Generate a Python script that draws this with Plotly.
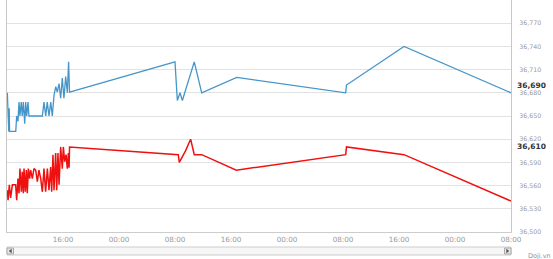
import plotly.graph_objects as go

D1, D2, D3, D4 = "2015-03-10", "2015-03-11", "2015-03-12", "2015-03-13"

blue_times = [
    f"{D1} 08:03", f"{D1} 08:15", f"{D1} 08:19", f"{D1} 08:22", f"{D1} 09:15", f"{D1} 09:23",
    f"{D1} 09:34", f"{D1} 09:43", f"{D1} 09:51", f"{D1} 10:02", f"{D1} 10:11", f"{D1} 10:20",
    f"{D1} 10:32", f"{D1} 10:40", f"{D1} 10:49", f"{D1} 11:00", f"{D1} 11:08", f"{D1} 13:03",
    f"{D1} 13:17", f"{D1} 13:32", f"{D1} 13:45", f"{D1} 14:00", f"{D1} 14:15", f"{D1} 14:28",
    f"{D1} 14:43", f"{D1} 14:58", f"{D1} 15:11", f"{D1} 15:26", f"{D1} 15:40", f"{D1} 15:54",
    f"{D1} 16:08", f"{D1} 16:23", f"{D1} 16:37", f"{D1} 16:48", f"{D1} 16:56",
    f"{D2} 08:00", f"{D2} 08:20", f"{D2} 08:43", f"{D2} 09:03", f"{D2} 10:45", f"{D2} 11:49",
    f"{D2} 16:49",
    f"{D3} 08:23", f"{D3} 08:30", f"{D3} 16:43",
    f"{D4} 08:00",
]
blue_values = [
    36680, 36630, 36660, 36630, 36630, 36650,
    36643, 36668, 36650, 36668, 36650, 36668,
    36640, 36668, 36650, 36668, 36650, 36650,
    36668, 36650, 36668, 36650, 36668, 36650,
    36677, 36688, 36681, 36692, 36673, 36699,
    36673, 36701, 36680, 36720, 36681,
    36720, 36670, 36680, 36670, 36720, 36680,
    36700,
    36680, 36690, 36740,
    36680,
]

red_times = [
    f"{D1} 08:03", f"{D1} 08:09", f"{D1} 08:20", f"{D1} 08:31", f"{D1} 08:46", f"{D1} 09:14",
    f"{D1} 09:23", f"{D1} 09:34", f"{D1} 09:43", f"{D1} 09:51", f"{D1} 10:03", f"{D1} 10:11",
    f"{D1} 10:20", f"{D1} 10:26", f"{D1} 10:37", f"{D1} 10:46", f"{D1} 10:54", f"{D1} 11:03",
    f"{D1} 11:14", f"{D1} 11:23", f"{D1} 11:37", f"{D1} 11:51", f"{D1} 12:06", f"{D1} 12:20",
    f"{D1} 12:34", f"{D1} 12:49", f"{D1} 13:03", f"{D1} 13:17", f"{D1} 13:31", f"{D1} 13:46",
    f"{D1} 14:00", f"{D1} 14:14", f"{D1} 14:23", f"{D1} 14:34", f"{D1} 14:43", f"{D1} 14:57",
    f"{D1} 15:06", f"{D1} 15:17", f"{D1} 15:26", f"{D1} 15:40", f"{D1} 15:54", f"{D1} 16:03",
    f"{D1} 16:14", f"{D1} 16:26", f"{D1} 16:37", f"{D1} 16:46", f"{D1} 16:52", f"{D1} 16:56",
    f"{D2} 08:28", f"{D2} 08:37", f"{D2} 09:30", f"{D2} 10:14", f"{D2} 10:45", f"{D2} 11:49",
    f"{D2} 16:46",
    f"{D3} 08:23", f"{D3} 08:30", f"{D3} 16:43",
    f"{D4} 08:00",
]
red_values = [
    36554, 36541, 36561, 36544, 36561, 36561,
    36541, 36569, 36550, 36582, 36552, 36578,
    36550, 36582, 36552, 36580, 36550, 36582,
    36569, 36580, 36569, 36582, 36580, 36565,
    36580, 36569, 36552, 36582, 36552, 36582,
    36554, 36584, 36552, 36600, 36554, 36602,
    36554, 36602, 36561, 36610, 36582, 36610,
    36591, 36600, 36582, 36602, 36583, 36610,
    36600, 36590, 36605, 36620, 36600, 36600,
    36580,
    36600, 36610, 36600,
    36540,
]

x_tickvals = [f"{D1} 16:00", f"{D2} 00:00", f"{D2} 08:00", f"{D2} 16:00", f"{D3} 00:00",
              f"{D3} 08:00", f"{D3} 16:00", f"{D4} 00:00", f"{D4} 08:00"]
x_ticktext = ["16:00", "00:00", "08:00", "16:00", "00:00", "08:00", "16:00", "00:00", "08:00"]
y_tickvals = [36500, 36530, 36560, 36590, 36620, 36650, 36680, 36710, 36740, 36770, 36800]
last_labels = [("36,690", 36690), ("36,610", 36610)]

W, H = 553, 259
L, R, T, B = 7, 42, 0, 27
pw, ph = W - L - R, H - T - B


def px(x):
    return (x - L) / pw


def py(y):
    return (H - B - y) / ph


fig = go.Figure()
fig.add_trace(go.Scatter(x=blue_times, y=blue_values, mode="lines",
                         line=dict(color="#4596c8", width=1.3), hoverinfo="skip"))
fig.add_trace(go.Scatter(x=red_times, y=red_values, mode="lines",
                         line=dict(color="#f01010", width=1.5), hoverinfo="skip"))

for txt, v in last_labels:
    fig.add_annotation(x=1, xref="paper", y=v, yref="y", text=f"<b>{txt}</b>",
                       showarrow=False, xanchor="left", yanchor="middle", xshift=4,
                       font=dict(family="DejaVu Sans", size=7.5, color="#333333"))

# scrollbar decoration
sb_top, sb_bot = 247, 255
fig.add_shape(type="rect", xref="paper", yref="paper", x0=px(7), x1=px(511),
              y0=py(sb_bot), y1=py(sb_top), line=dict(color="#cccccc", width=1),
              fillcolor="#f6f6f6", layer="above")
for bx0, bx1, d in [(7, 13.5, -1), (504.5, 511, 1)]:
    fig.add_shape(type="rect", xref="paper", yref="paper", x0=px(bx0), x1=px(bx1),
                  y0=py(sb_bot - 1), y1=py(sb_top + 1), line=dict(color="#aaaaaa", width=1),
                  fillcolor="#e8e8e8", layer="above")
    cx, cy = (bx0 + bx1) / 2, (sb_top + sb_bot) / 2
    tip = cx + 1.2 * d
    base = cx - 1.2 * d
    path = (f"M {px(base)} {py(cy - 1.8)} L {px(tip)} {py(cy)} "
            f"L {px(base)} {py(cy + 1.8)} Z")
    fig.add_shape(type="path", xref="paper", yref="paper", path=path,
                  line=dict(color="#555555", width=0.5), fillcolor="#555555", layer="above")

fig.add_annotation(x=px(526), y=py(256), xref="paper", yref="paper", text="Doji.vn",
                   showarrow=False, xanchor="left", yanchor="middle",
                   font=dict(family="DejaVu Sans", size=6.5, color="#909090"))

fig.update_layout(
    width=W, height=H, margin=dict(l=L, r=R, t=T, b=B),
    paper_bgcolor="white", plot_bgcolor="white", showlegend=False,
    xaxis=dict(type="date", range=[f"{D1} 08:00", f"{D4} 08:00"], tickvals=x_tickvals,
               ticktext=x_ticktext, showgrid=False, showline=True, linecolor="#cccccc",
               ticks="", zeroline=False,
               tickfont=dict(family="DejaVu Sans", size=7.2, color="#999999")),
    yaxis=dict(side="right", range=[36500, 36800], tickvals=y_tickvals, tickformat=",",
               showgrid=True, gridcolor="#e2e2e2", gridwidth=1, showline=True, mirror=True,
               linecolor="#c8c8c8", ticks="", zeroline=False, ticklabelstandoff=6,
               tickfont=dict(family="DejaVu Sans", size=6.3, color="#9a9a9a")),
)

fig.write_html("out.html")
